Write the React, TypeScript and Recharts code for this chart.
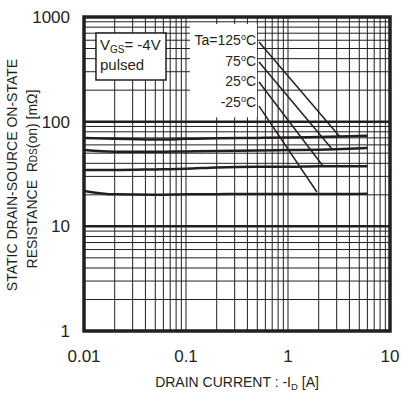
import React from "react";
import {
  LineChart,
  Line,
  XAxis,
  YAxis,
  CartesianGrid,
  ReferenceLine,
  ReferenceArea,
  Label,
} from "recharts";

const INK = "#231f20";
const FONT = "'Liberation Sans', Arial, sans-serif";

// drain current [A]
const current = [0.01, 0.02, 0.05, 0.1, 0.2, 0.5, 1, 2, 4, 6];
// Rds(on) [mOhm] per ambient temperature
const ta125 = [70, 68.5, 67.5, 68.5, 69.5, 70, 70.5, 71.5, 72.5, 73.5];
const ta75 = [53.5, 51.5, 51.5, 52, 52.5, 53, 53.5, 54, 55, 56];
const ta25 = [34.5, 34.5, 35, 35.5, 36.5, 37, 37, 37.5, 37.5, 37.5];
const taM25 = [21.8, 20.2, 20, 20.2, 20.3, 20.4, 20.4, 20.4, 20.4, 20.5];

const xTickLabels = [0.01, 0.1, 1, 10];
const yTickLabels = [1, 10, 100, 1000];
const xGrid = [
  0.01, 0.02, 0.03, 0.04, 0.05, 0.06, 0.07, 0.08, 0.09,
  0.1, 0.2, 0.3, 0.4, 0.5, 0.6, 0.7, 0.8, 0.9,
  1, 2, 3, 4, 5, 6, 7, 8, 9, 10,
];
const yGrid = [
  1, 2, 3, 4, 5, 6, 7, 8, 9,
  10, 20, 30, 40, 50, 60, 70, 80, 90,
  100, 200, 300, 400, 500, 600, 700, 800, 900, 1000,
];
const yMajor = [10, 100];

// temperature labels and their leader lines (start near label, end on curve)
const tempLabels = ["Ta=125", "75", "25", "-25"];
const leaders = [
  [{ x: 0.52, y: 577 }, { x: 3.24, y: 71.4 }],
  [{ x: 0.52, y: 372 }, { x: 2.7, y: 54.8 }],
  [{ x: 0.52, y: 239 }, { x: 2.2, y: 37.7 }],
  [{ x: 0.52, y: 141 }, { x: 1.92, y: 21.3 }],
];

const rows = current.map((id, i) => ({
  id,
  t125: ta125[i],
  t75: ta75[i],
  t25: ta25[i],
  tm25: taM25[i],
}));

const keys = ["t125", "t75", "t25", "tm25"];

function fmt(v: number) {
  return xTickLabels.includes(v) || yTickLabels.includes(v) ? String(v) : "";
}

export default function App() {
  return (
    <div style={{ position: "absolute", left: 0, top: 0, background: "#fff" }}>
      <LineChart
        width={401}
        height={394}
        data={rows}
        margin={{ top: 17, right: 11, bottom: 0, left: 0 }}
      >
        <CartesianGrid stroke={INK} strokeWidth={1} />
        <XAxis
          dataKey="id"
          type="number"
          scale="log"
          domain={[0.01, 10]}
          ticks={xGrid}
          interval={0}
          tickFormatter={fmt}
          allowDataOverflow
          height={63}
          axisLine={false}
          tickLine={false}
          tickSize={0}
          tickMargin={19}
          tick={{ fill: INK, fontSize: 17, fontFamily: FONT }}
        >
          <Label
            content={({ viewBox }: any) => (
              <text
                x={viewBox.x + viewBox.width / 2}
                y={viewBox.y + 56}
                textAnchor="middle"
                fill={INK}
                fontSize={14}
                fontFamily={FONT}
              >
                DRAIN CURRENT : -I
                <tspan fontSize={9.5} dy={3}>D</tspan>
                <tspan dy={-3}> [A]</tspan>
              </text>
            )}
          />
        </XAxis>
        <YAxis
          type="number"
          scale="log"
          domain={[1, 1000]}
          ticks={yGrid}
          interval={0}
          tickFormatter={fmt}
          allowDataOverflow
          width={84}
          axisLine={false}
          tickLine={false}
          tickSize={0}
          tickMargin={14}
          tick={{ fill: INK, fontSize: 17, fontFamily: FONT }}
        >
          <Label
            content={({ viewBox }: any) => {
              const cy = viewBox.y + viewBox.height / 2;
              return (
                <g fill={INK} fontFamily={FONT} fontSize={14}>
                  <text
                    x={17}
                    y={cy + 1}
                    textAnchor="middle"
                    transform={`rotate(-90 17 ${cy + 1})`}
                  >
                    STATIC DRAIN-SOURCE ON-STATE
                  </text>
                  <text
                    x={37}
                    y={cy + 5}
                    textAnchor="middle"
                    transform={`rotate(-90 37 ${cy + 5})`}
                  >
                    {"RESISTANCE\u00a0\u00a0R"}
                    <tspan fontSize={10}>DS</tspan>
                    <tspan>(on) [mΩ]</tspan>
                  </text>
                </g>
              );
            }}
          />
        </YAxis>

        {yMajor.map((v) => (
          <ReferenceLine key={v} y={v} stroke={INK} strokeWidth={2.5} />
        ))}

        {/* white panel behind the temperature labels */}
        <ReferenceArea
          x1={0.1094}
          x2={0.497}
          y1={110}
          y2={857}
          fill="#fff"
          fillOpacity={1}
          stroke="none"
          label={({ viewBox }: any) => {
            const right = viewBox.x + viewBox.width - 1;
            return (
              <g fill={INK} fontFamily={FONT} fontSize={14}>
                {tempLabels.map((t, i) => (
                  <text key={t} x={right} y={viewBox.y + 21 + i * 20.7} textAnchor="end">
                    {t}
                    <tspan fontSize={9} dy={-5}>o</tspan>
                    <tspan dy={5}>C</tspan>
                  </text>
                ))}
              </g>
            );
          }}
        />

        {/* test condition box */}
        <ReferenceArea
          x1={0.0131}
          x2={0.0637}
          y1={250}
          y2={703}
          fill="#fff"
          fillOpacity={1}
          stroke={INK}
          strokeWidth={1.5}
          label={({ viewBox }: any) => (
            <g fill={INK} fontFamily={FONT} fontSize={15}>
              <text x={viewBox.x + 4} y={viewBox.y + 17}>
                V<tspan fontSize={10} dy={3}>GS</tspan>
                <tspan dy={-3}>= -4V</tspan>
              </text>
              <text x={viewBox.x + 4} y={viewBox.y + 37}>
                pulsed
              </text>
            </g>
          )}
        />

        {leaders.map((seg, i) => (
          <ReferenceLine key={i} segment={seg} stroke={INK} strokeWidth={1.5} />
        ))}

        {keys.map((k) => (
          <Line
            key={k}
            dataKey={k}
            type="monotone"
            stroke={INK}
            strokeWidth={2.5}
            dot={false}
            isAnimationActive={false}
          />
        ))}

        {/* plot frame */}
        <ReferenceArea
          x1={0.01}
          x2={10}
          y1={1}
          y2={1000}
          fill="none"
          stroke={INK}
          strokeWidth={3.5}
        />
      </LineChart>
    </div>
  );
}
